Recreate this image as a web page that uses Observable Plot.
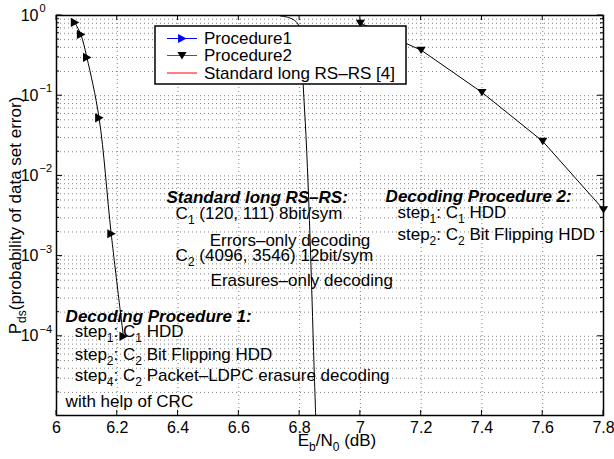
<!DOCTYPE html>
<html><head><meta charset="utf-8">
<script src="https://cdn.jsdelivr.net/npm/d3@7"></script>
<script src="https://cdn.jsdelivr.net/npm/@observablehq/plot@0.6"></script>
<style>
body{margin:0;background:#fff;}
#chart{width:614px;height:459px;}
</style></head><body><div id="chart"></div>
<script>
// ---- data ----
const proc1X = [6.06, 6.08, 6.10, 6.14, 6.18, 6.22];
const proc1Y = [0.82, 0.58, 0.30, 0.053, 0.0019, 0.0001];
const proc2X = [7.0, 7.2, 7.4, 7.6, 7.8];
const proc2Y = [0.8, 0.37, 0.11, 0.027, 0.0038];
const stdX = [6.737, 6.764, 6.784, 6.797, 6.807, 6.812, 6.821, 6.830, 6.839, 6.846, 6.853];
const stdY = [0.986, 0.944, 0.866, 0.75, 0.42, 0.133, 0.0316, 0.0049, 0.00049, 0.000065, 0.00001];
const xTicks = [6, 6.2, 6.4, 6.6, 6.8, 7, 7.2, 7.4, 7.6, 7.8];
const xTickLabels = ["6", "6.2", "6.4", "6.6", "6.8", "7", "7.2", "7.4", "7.6", "7.8"];
const yTicks = [1, 0.1, 0.01, 0.001, 0.0001];
const yTickExp = ["0", "\u22121", "\u22122", "\u22123", "\u22124"];
const legendLabels = ["Procedure1", "Procedure2", "Standard long RS\u2013RS [4]"];
const legendColors = ["#0000ff", "#555555", "#ff0000"];
const xLabel = "E_{b}/N_{0} (dB)";
const yLabel = "P_{ds}(probability of data set error)";
const annotText = [
  "Standard long RS\u2013RS:", "C_{1} (120, 111) 8bit/sym", "Errors\u2013only decoding",
  "C_{2} (4096, 3546) 12bit/sym", "Erasures\u2013only decoding",
  "Decoding Procedure 2:", "step_{1}: C_{1} HDD", "step_{2}: C_{2} Bit Flipping HDD",
  "Decoding Procedure 1:", "step_{1}: C_{1} HDD", "step_{2}: C_{2} Bit Flipping HDD",
  "step_{4}: C_{2} Packet\u2013LDPC erasure decoding", "with help of CRC"
];
const annotX = [6.362, 6.392, 6.504, 6.392, 6.507, 7.083, 7.122, 7.122, 6.03, 6.06, 6.06, 6.06, 6.03];
const annotY = [0.00531, 0.00335, 0.00158, 0.00102, 0.000501, 0.00546, 0.00347, 0.00188, 0.000174, 0.000115, 0.0000596, 0.0000324, 0.0000155];
const annotBold = [true, false, false, false, false, true, false, false, true, false, false, false, false];

// ---- tables ----
const proc1 = proc1X.map((x, i) => ({x, y: proc1Y[i]}));
const proc2 = proc2X.map((x, i) => ({x, y: proc2Y[i]}));
const std = stdX.map((x, i) => ({x, y: stdY[i]}));
const yTickTable = yTicks.map((v, i) => ({v, e: yTickExp[i]}));
const annots = annotText.map((t, i) => ({t, x: annotX[i], y: annotY[i], b: annotBold[i]}));
const yDomain = [1.03e-5, 1];
const yMinor = [];
for (let e = -5; e <= -1; e++) for (let m = 1; m <= 9; m++) { const v = m * Math.pow(10, e); if (v >= yDomain[0]) yMinor.push(v); }
yMinor.push(1);

// custom symbols
const triRight = {draw(ctx, size) { const r = Math.sqrt(size / Math.PI); ctx.moveTo(r, 0); ctx.lineTo(-r * 0.85, -r); ctx.lineTo(-r * 0.85, r); ctx.closePath(); }};
const triDown = {draw(ctx, size) { const r = Math.sqrt(size / Math.PI); ctx.moveTo(0, r * 0.85); ctx.lineTo(-r, -r * 0.75); ctx.lineTo(r, -r * 0.75); ctx.closePath(); }};

const FONT = "'Liberation Sans', Arial, Helvetica, sans-serif";
const grid = {stroke: "#555", strokeOpacity: 0.75, strokeWidth: 1, strokeDasharray: "1,3"};

const plot = Plot.plot({
  width: 614, height: 459,
  marginLeft: 56, marginRight: 11, marginTop: 15, marginBottom: 44,
  style: {fontFamily: FONT, fontSize: "16px", background: "white", color: "black", overflow: "visible"},
  x: {domain: [6, 7.8]},
  y: {type: "log", domain: yDomain, axis: null},
  marks: [
    Plot.ruleX(xTicks, {...grid}),
    Plot.ruleY(yMinor, {...grid}),
    Plot.axisX(xTicks, {tickSize: 0, tickPadding: 6, tickFormat: (d) => xTickLabels[xTicks.indexOf(d)], label: null, fontSize: 16}),
    Plot.text(yTickTable, {y: "v", frameAnchor: "left", dx: -18, text: () => "10", textAnchor: "end", fontSize: 16}),
    Plot.text(yTickTable, {y: "v", frameAnchor: "left", dx: -17, dy: -7, text: "e", textAnchor: "start", fontSize: 11}),
    Plot.line(std, {x: "x", y: "y", stroke: "black", strokeWidth: 1, curve: "catmull-rom", clip: true}),
    Plot.line(proc1, {x: "x", y: "y", stroke: "black", strokeWidth: 1, curve: "catmull-rom", clip: true}),
    Plot.line(proc2, {x: "x", y: "y", stroke: "black", strokeWidth: 1, clip: true}),
    Plot.dot(proc1, {x: "x", y: "y", symbol: triRight, r: 4.6, fill: "black", stroke: "none"}),
    Plot.dot(proc2, {x: "x", y: "y", symbol: triDown, r: 4.6, fill: "black", stroke: "none"}),
    Plot.text(annots.filter(d => d.b), {x: "x", y: "y", text: "t", textAnchor: "start", fontSize: 17, fontWeight: "bold", fontStyle: "italic"}),
    Plot.text(annots.filter(d => !d.b), {x: "x", y: "y", text: "t", textAnchor: "start", fontSize: 17}),
    Plot.text([xLabel], {frameAnchor: "bottom", dx: 7, dy: 30, text: d => d, textAnchor: "middle", fontSize: 17}),
    Plot.text([yLabel], {frameAnchor: "left", dx: -41, text: d => d, rotate: -90, textAnchor: "middle", fontSize: 17}),
    Plot.frame({stroke: "black", strokeWidth: 1.5})
  ]
});

// rich text: subscripts written as _{...}
d3.select(plot).selectAll("text").each(function () {
  const t = d3.select(this);
  if (!t.select("tspan").empty()) return;
  const s = t.text();
  if (!s.includes("_{")) return;
  t.text(null);
  const parts = s.split(/(_\{[^}]*\})/);
  let low = false;
  for (const p of parts) {
    if (!p) continue;
    if (p.startsWith("_{")) {
      t.append("tspan").attr("dy", low ? null : 5).attr("font-size", 12).text(p.slice(2, -1));
      low = true;
    } else {
      t.append("tspan").attr("dy", low ? -5 : null).text(p);
      low = false;
    }
  }
});

// inward ticks
const sx = plot.scale("x"), sy = plot.scale("y");
const L = 56, R = 603, T = 15, B = 415;
const tg = d3.select(plot).append("g").attr("stroke", "black").attr("stroke-width", 1);
for (const v of xTicks) {
  const px = sx.apply(v);
  tg.append("line").attr("x1", px).attr("x2", px).attr("y1", B).attr("y2", B - 5);
  tg.append("line").attr("x1", px).attr("x2", px).attr("y1", T).attr("y2", T + 5);
}
for (const v of yMinor) {
  const py = sy.apply(v);
  const len = yTicks.includes(v) ? 6 : 3;
  tg.append("line").attr("x1", L).attr("x2", L + len).attr("y1", py).attr("y2", py);
  tg.append("line").attr("x1", R).attr("x2", R - len).attr("y1", py).attr("y2", py);
}

// legend
const lg = d3.select(plot).append("g").attr("font-family", FONT).attr("font-size", 17).attr("text-anchor", "start");
lg.append("rect").attr("x", 155).attr("y", 26).attr("width", 251).attr("height", 58)
  .attr("fill", "white").attr("stroke", "black").attr("stroke-width", 1.5);
const rowY = [38.5, 55.5, 73];
const legSyms = [triRight, triDown, null];
const legSymFill = ["#0000ff", "black", null];
legendLabels.forEach((lab, i) => {
  const y = rowY[i];
  lg.append("line").attr("x1", 167).attr("x2", 197).attr("y1", y).attr("y2", y).attr("stroke", legendColors[i]).attr("stroke-width", 1);
  if (legSyms[i]) lg.append("path").attr("transform", `translate(182,${y})`).attr("d", d3.symbol(legSyms[i], Math.PI * 4.6 * 4.6)()).attr("fill", legSymFill[i]);
  lg.append("text").attr("x", 204).attr("y", y).attr("dy", "0.35em").attr("text-anchor", "start").text(lab);
});

document.getElementById("chart").appendChild(plot);
</script>
</body></html>
